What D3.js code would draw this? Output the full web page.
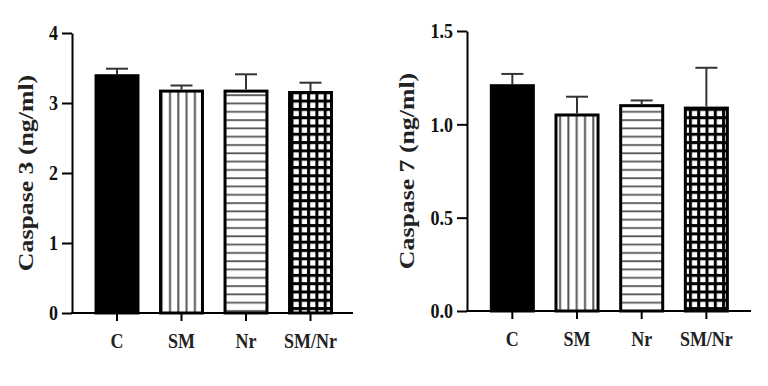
<!DOCTYPE html>
<html>
<head>
<meta charset="utf-8">
<script src="https://cdn.jsdelivr.net/npm/d3@7"></script>
<style>
  body { margin: 0; background: #fff; }
  svg { display: block; }
</style>
</head>
<body>
<div id="chart"></div>
<script>
// data
var groups = ['C', 'SM', 'Nr', 'SM/Nr']
var casp3_mean = [3.39, 3.17, 3.17, 3.15]
var casp3_err = [0.10, 0.08, 0.24, 0.14]
var casp7_mean = [1.207, 1.05, 1.10, 1.087]
var casp7_err = [0.063, 0.098, 0.028, 0.216]
var casp3_ticks = [0, 1, 2, 3, 4]
var casp7_ticks = [0, 0.5, 1.0, 1.5]

var fills = ['url(#solid)', 'url(#vlines)', 'url(#hlines)', 'url(#grid)']
var font = '"Liberation Serif", "Times New Roman", serif'
var stretch = 1.2

var svg = d3.select('#chart').append('svg')
  .attr('width', 768).attr('height', 386)

var defs = svg.append('defs')

defs.append('pattern').attr('id', 'solid')
  .attr('patternUnits', 'userSpaceOnUse').attr('width', 8).attr('height', 8)
  .append('rect').attr('width', 8).attr('height', 8).attr('fill', '#000')

var vp = defs.append('pattern').attr('id', 'vlines')
  .attr('patternUnits', 'userSpaceOnUse').attr('width', 8.3).attr('height', 10)
vp.append('rect').attr('width', 8.3).attr('height', 10).attr('fill', '#fff')
vp.append('rect').attr('x', 3).attr('width', 2).attr('height', 10).attr('fill', '#555')

var hp = defs.append('pattern').attr('id', 'hlines')
  .attr('patternUnits', 'userSpaceOnUse').attr('width', 10).attr('height', 8.3)
hp.append('rect').attr('width', 10).attr('height', 8.3).attr('fill', '#fff')
hp.append('rect').attr('y', 3).attr('width', 10).attr('height', 1.8).attr('fill', '#555')

var gp = defs.append('pattern').attr('id', 'grid')
  .attr('patternUnits', 'userSpaceOnUse').attr('width', 8.3).attr('height', 8.3)
gp.append('rect').attr('width', 8.3).attr('height', 8.3).attr('fill', '#fff')
gp.append('rect').attr('x', 0).attr('width', 3).attr('height', 8.3).attr('fill', '#000')
gp.append('rect').attr('y', 0).attr('width', 8.3).attr('height', 3).attr('fill', '#000')

function panel(opt) {
  var g = svg.append('g')

  var y = d3.scaleLinear().domain(opt.yDomain).range([opt.y0, opt.y1])
  var x = d3.scaleBand().domain(groups)
    .range(opt.xRange).paddingInner(0.35).paddingOuter(0.175)

  // y axis, labels drawn by hand so they can be stretched like the original
  var ya = g.append('g')
    .attr('transform', 'translate(' + opt.axisX + ',0)')
    .call(d3.axisLeft(y).tickValues(opt.ticks).tickFormat('')
      .tickSize(10).tickSizeOuter(0))
  ya.select('.domain').attr('stroke', '#000').attr('stroke-width', 2)
  ya.selectAll('.tick line').attr('stroke', '#000').attr('stroke-width', 2)

  opt.ticks.forEach(function(t) {
    g.append('text')
      .attr('transform', 'translate(' + (opt.axisX - 14) + ',' + y(t) + ') scale(1,' + stretch + ')')
      .attr('text-anchor', 'end')
      .attr('dy', '0.34em')
      .style('font-family', font).style('font-size', '18px').style('font-weight', 'bold')
      .style('fill', '#111')
      .text(opt.fmt(t))
  })

  // bars
  var bars = g.selectAll('.bar').data(opt.mean).enter()
  bars.append('rect')
    .attr('x', function(d, i) { return x(groups[i]) })
    .attr('y', function(d) { return y(d) })
    .attr('width', x.bandwidth())
    .attr('height', function(d) { return y(0) - y(d) })
    .attr('fill', function(d, i) { return fills[i] })
    .attr('stroke', '#000').attr('stroke-width', 3)

  // error bars (upper only)
  var cap = 22
  opt.mean.forEach(function(m, i) {
    var cx = x(groups[i]) + x.bandwidth() / 2
    g.append('line')
      .attr('x1', cx).attr('x2', cx)
      .attr('y1', y(m) - 1.5).attr('y2', y(m + opt.err[i]))
      .attr('stroke', '#333').attr('stroke-width', 2)
    g.append('line')
      .attr('x1', cx - cap / 2).attr('x2', cx + cap / 2)
      .attr('y1', y(m + opt.err[i])).attr('y2', y(m + opt.err[i]))
      .attr('stroke', '#333').attr('stroke-width', 2)
  })

  // x axis
  g.append('line')
    .attr('x1', opt.axisX - 1).attr('x2', opt.xEnd)
    .attr('y1', y(0)).attr('y2', y(0))
    .attr('stroke', '#000').attr('stroke-width', 2)
  var xa = g.append('g')
    .attr('transform', 'translate(0,' + y(0) + ')')
    .call(d3.axisBottom(x).tickSize(8).tickSizeOuter(0).tickFormat(''))
  xa.select('.domain').remove()
  xa.selectAll('.tick line').attr('stroke', '#000').attr('stroke-width', 2)

  groups.forEach(function(c) {
    g.append('text')
      .attr('transform', 'translate(' + (x(c) + x.bandwidth() / 2) + ',' + (y(0) + 35) + ') scale(1,' + stretch + ')')
      .attr('text-anchor', 'middle')
      .style('font-family', font).style('font-size', '18px').style('font-weight', 'bold')
      .style('fill', '#222')
      .text(c)
  })

  // axis title
  g.append('text')
    .attr('transform', 'translate(' + opt.titleX + ',' + opt.titleY + ') scale(1,' + stretch + ') rotate(-90)')
    .attr('text-anchor', 'middle')
    .attr('dy', '0.35em')
    .style('font-family', font).style('font-size', '21.5px').style('font-weight', 'bold')
    .style('fill', '#222')
    .text(opt.title)
}

panel({
  mean: casp3_mean, err: casp3_err, ticks: casp3_ticks,
  fmt: d3.format('d'),
  yDomain: [0, 4], y0: 313, y1: 33,
  axisX: 72, xRange: [84.75, 342.75], xEnd: 353,
  title: 'Caspase 3 (ng/ml)', titleX: 25, titleY: 173
})

panel({
  mean: casp7_mean, err: casp7_err, ticks: casp7_ticks,
  fmt: d3.format('.1f'),
  yDomain: [0, 1.5], y0: 311, y1: 31,
  axisX: 467, xRange: [480, 738.7], xEnd: 751,
  title: 'Caspase 7 (ng/ml)', titleX: 406, titleY: 171
})
</script>
</body>
</html>
